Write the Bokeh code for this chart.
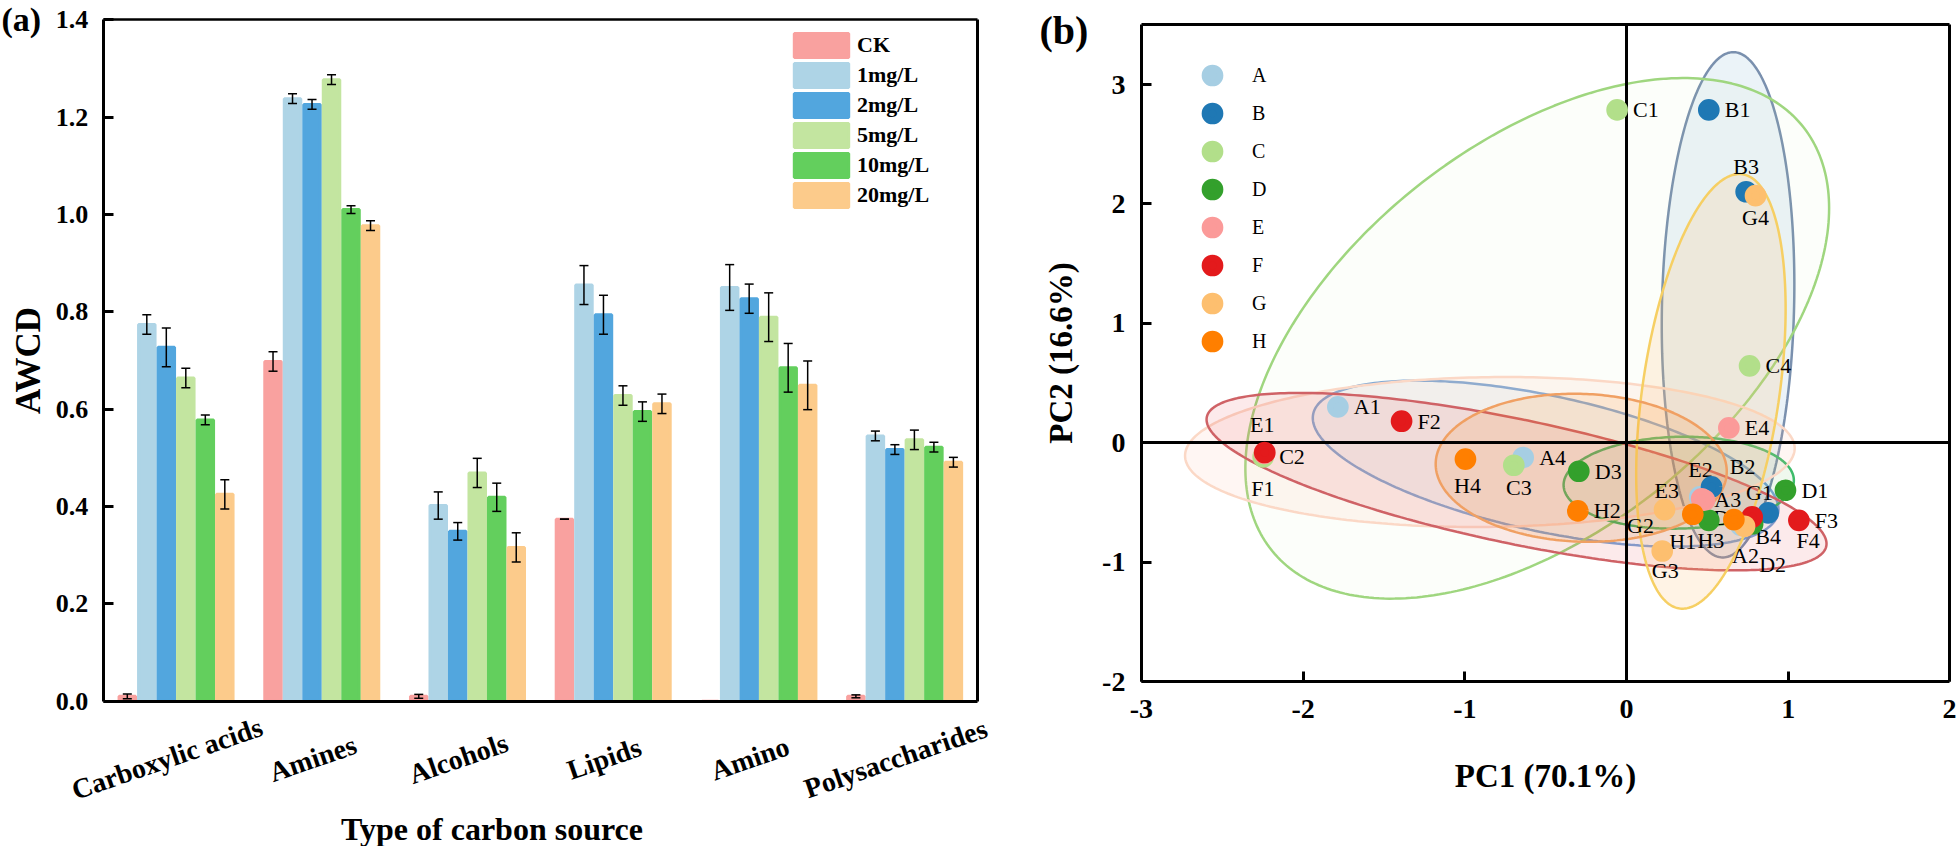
import numpy as np
from bokeh.plotting import figure
from bokeh.models import (ColumnDataSource, Whisker, TeeHead, Legend, LegendItem,
                          Range1d, FixedTicker, PrintfTickFormatter, LinearAxis)
from bokeh.layouts import row
from bokeh.embed import file_html
from bokeh.resources import INLINE
from bokeh.core.properties import value, field

SERIF = "Liberation Serif"

# ---------------- data: panel (a) ----------------
categories = ["Carboxylic acids", "Amines", "Alcohols", "Lipids", "Amino", "Polysaccharides"]
series = ["CK", "1mg/L", "2mg/L", "5mg/L", "10mg/L", "20mg/L"]

ck = [0.010, 0.698, 0.010, 0.374, 0.000, 0.010]
ck_err = [0.005, 0.020, 0.004, 0.000, 0.000, 0.003]
m1 = [0.774, 1.238, 0.402, 0.855, 0.850, 0.545]
m1_err = [0.020, 0.010, 0.028, 0.040, 0.047, 0.010]
m2 = [0.727, 1.226, 0.349, 0.794, 0.827, 0.517]
m2_err = [0.040, 0.010, 0.018, 0.040, 0.030, 0.010]
m5 = [0.664, 1.277, 0.469, 0.628, 0.789, 0.537]
m5_err = [0.020, 0.010, 0.030, 0.020, 0.050, 0.020]
m10 = [0.578, 1.010, 0.419, 0.595, 0.685, 0.522]
m10_err = [0.010, 0.008, 0.029, 0.020, 0.050, 0.010]
m20 = [0.425, 0.977, 0.316, 0.611, 0.649, 0.491]
m20_err = [0.030, 0.010, 0.030, 0.020, 0.050, 0.010]

awcd_ticks = [0.0, 0.2, 0.4, 0.6, 0.8, 1.0, 1.2, 1.4]

# ---------------- data: panel (b) ----------------
groups = ["A", "B", "C", "D", "E", "F", "G", "H"]
pc1_A = [-1.785, 0.705, 0.453, -0.639]
pc2_A = [0.300, -0.690, -0.454, -0.124]
pc1_B = [0.509, 0.526, 0.740, 0.876]
pc2_B = [2.787, -0.370, 2.102, -0.588]
pc1_C = [-0.058, -2.247, -0.697, 0.761]
pc2_C = [2.787, -0.119, -0.189, 0.644]
pc1_D = [0.983, 0.780, -0.295, 0.509]
pc2_D = [-0.398, -0.680, -0.239, -0.650]
pc1_E = [-2.240, 0.482, 0.465, 0.633]
pc2_E = [-0.090, -0.482, -0.470, 0.124]
pc1_F = [-2.237, -1.391, 1.066, 0.777]
pc2_F = [-0.082, 0.180, -0.650, -0.622]
pc1_G = [0.730, 0.235, 0.221, 0.798]
pc2_G = [-0.700, -0.560, -0.907, 2.069]
pc1_H = [0.410, -0.301, 0.664, -0.996]
pc2_H = [-0.599, -0.571, -0.644, -0.138]

# confidence ellipses per group (centre, half extents, correlation)
ell_cx = [-0.500, 0.628, -0.552, 0.323, -0.845, -0.680, 0.522, -0.280]
ell_cy = [-0.175, 1.155, 0.874, -0.335, -0.078, -0.326, 0.430, -0.210]
ell_sx = [1.440, 0.410, 1.805, 0.712, 1.885, 1.917, 0.462, 0.900]
ell_sy = [0.695, 2.116, 2.180, 0.385, 0.628, 0.743, 1.820, 0.620]
ell_r = [-0.55, 0.08, 0.50, 0.05, 0.05, -0.70, 0.38, -0.05]

pc1_ticks = [-3, -2, -1, 0, 1, 2]
pc2_ticks = [-2, -1, 0, 1, 2, 3]

# ---------------- styles ----------------
bar_colors = ["#F9A19F", "#AED4E6", "#52A6DE", "#C3E5A0", "#63CF5D", "#FCCB8B"]
point_colors = ["#A6CEE3", "#1F78B4", "#B2DF8A", "#33A02C", "#FB9A99", "#E31A1C", "#FDBF6F", "#FF7F00"]
ell_line = ["#7DA7D9", "#7A90AE", "#9FD67F", "#3DBB6A", "#FBD8C6", "#CF6266", "#F6CF63", "#F0A063"]
ell_fill = ["#A6CEE3", "#1F78B4", "#C8E29A", "#33A02C", "#FBB89A", "#E31A1C", "#FDBF6F", "#FF7F00"]
ell_alpha = [0.12, 0.09, 0.05, 0.08, 0.12, 0.09, 0.18, 0.12]

# label nudges (screen px: dx right, dy down, alignment) for crowded points
label_nudge = {
    "B3": (0, -25, "center"), "G4": (0, 22, "center"), "E1": (-2, -29, "center"),
    "F1": (-2, 36, "center"), "H4": (2, 26, "center"), "C3": (5, 22, "center"),
    "E2": (-4, -31, "center"), "B2": (31, -20, "center"), "E3": (-35, -8, "center"),
    "A3": (28, 3, "center"), "G1": (15, -34, "center"), "D4": (18, -3, "center"),
    "G2": (-24, 16, "center"), "H1": (-10, 27, "center"), "H3": (-23, 21, "center"),
    "A2": (5, 30, "center"), "B4": (0, 24, "center"), "D2": (20, 41, "center"),
    "F4": (56, 24, "center"), "G3": (3, 20, "center"),
}


def style_axis(ax, label_size, standoff):
    ax.axis_line_color = "black"
    ax.axis_line_width = 3
    ax.major_tick_line_color = "black"
    ax.major_tick_line_width = 3
    ax.major_tick_in = 10
    ax.major_tick_out = 0
    ax.minor_tick_line_color = None
    ax.major_label_text_font = SERIF
    ax.major_label_text_font_style = "bold"
    ax.major_label_text_font_size = label_size
    ax.major_label_text_color = "black"
    ax.major_label_standoff = standoff
    ax.axis_label_text_font = SERIF
    ax.axis_label_text_font_style = "bold"
    ax.axis_label_text_color = "black"


def frame_line(ax, loc, bounds, width=3):
    """Turn an axis into a bare box line at a fixed data location."""
    ax.fixed_location = loc
    ax.bounds = bounds
    ax.ticker = FixedTicker(ticks=[])
    ax.axis_line_color = "black"
    ax.axis_line_width = width
    ax.major_tick_line_color = None
    ax.minor_tick_line_color = None
    ax.major_label_text_font_size = "0px"
    return ax


H = 846  # canvas height (page has no margin)

# ================= panel (a) =================
# frame fills the whole canvas; axes are pinned to data locations
A_W = 1030
A_X0, A_X6 = 102.7, 977.0        # pixel x of x=0 and x=6
A_Y14, A_Y0 = 19.3, 700.7        # pixel y of 1.4 and 0
ax_px = (A_X6 - A_X0) / len(categories)
ay_px = (A_Y0 - A_Y14) / 1.4
xa_rng = Range1d(-A_X0 / ax_px, len(categories) + (A_W - A_X6) / ax_px)
ya_rng = Range1d(-(H - A_Y0) / ay_px, 1.4 + A_Y14 / ay_px)

pa = figure(width=A_W, height=H, x_range=xa_rng, y_range=ya_rng,
            output_backend="svg", toolbar_location=None, title=None,
            min_border=0, min_border_left=0, min_border_right=0, min_border_top=0, min_border_bottom=0)
pa.frame_align = False
pa.background_fill_color = "white"
pa.border_fill_color = "white"
pa.outline_line_color = None
pa.grid.visible = False

BAR_W = 0.1133       # drawn width; the 3px edge in the bar colour brings it to full width
values = [ck, m1, m2, m5, m10, m20]
errors = [ck_err, m1_err, m2_err, m5_err, m10_err, m20_err]
idx = np.arange(len(categories))
pitch = 19.5 / ax_px
bar_renderers = []
for j, (name, vals, errs) in enumerate(zip(series, values, errors)):
    vals = np.array(vals)
    errs = np.array(errs)
    xs = idx + 0.5 + (j - (len(series) - 1) / 2) * pitch
    src = ColumnDataSource(dict(x=xs, top=vals, upper=vals + errs, lower=vals - errs))
    r = pa.vbar(x="x", top="top", bottom=0, width=BAR_W, source=src,
                fill_color=bar_colors[j], line_color=bar_colors[j], line_width=3)
    bar_renderers.append(r)
    w = Whisker(source=src, base="x", upper="upper", lower="lower",
                line_color="black", line_width=1.5, level="annotation",
                upper_head=TeeHead(size=9, line_width=1.5, line_color="black"),
                lower_head=TeeHead(size=9, line_width=1.5, line_color="black"))
    pa.add_layout(w)

ya = pa.yaxis[0]
style_axis(ya, "26px", 15)
ya.fixed_location = 0
ya.bounds = (0, 1.4)
ya.ticker = FixedTicker(ticks=awcd_ticks)
ya.formatter = PrintfTickFormatter(format="%.1f")
ya.axis_label = "AWCD"
ya.axis_label_text_font_size = "35px"
ya.axis_label_standoff = 5

frame_line(pa.xaxis[0], 0, (0, len(categories)), 3)
pa.add_layout(frame_line(LinearAxis(), len(categories), (0, 1.4), 3), "right")
pa.add_layout(frame_line(LinearAxis(), 1.4, (0, len(categories)), 2.5), "above")

pa.text(x=idx + 0.5, y=np.full(len(categories), -(758 - A_Y0) / ay_px), text=categories,
        angle=np.deg2rad(19), x_offset=-9,
        text_align="center", text_baseline="middle",
        text_font=value(SERIF), text_font_style="bold", text_font_size="28px", text_color="black")
pa.text(x=[(491.5 - A_X0) / ax_px], y=[-(810 - A_Y0) / ay_px], text=["Type of carbon source"],
        text_align="center", text_baseline="top",
        text_font=value(SERIF), text_font_style="bold", text_font_size="32px", text_color="black")
pa.text(x=[(1 - A_X0) / ax_px], y=[1.4 + A_Y14 / ay_px], text=["(a)"],
        text_align="left", text_baseline="top",
        text_font=value(SERIF), text_font_style="bold", text_font_size="34px", text_color="black")

legend_a = Legend(items=[LegendItem(label=s, renderers=[r]) for s, r in zip(series, bar_renderers)],
                  location=(787, H - 30 - 30 * len(series)), orientation="vertical",
                  glyph_width=68, glyph_height=30, spacing=0, padding=0, margin=0,
                  border_line_color=None, background_fill_alpha=0,
                  label_text_font=SERIF, label_text_font_style="bold", label_text_font_size="22px",
                  label_text_color="black", label_standoff=2, label_height=30)
pa.add_layout(legend_a)

# ================= panel (b) =================
B_W = 926
B_XM3, B_X2 = 110.9, 919.4       # pixel x of -3 and 2 (within this canvas)
B_Y35, B_YM2 = 24.3, 681.0       # pixel y of 3.5 and -2
bx_px = (B_X2 - B_XM3) / 5.0
by_px = (B_YM2 - B_Y35) / 5.5
xb_rng = Range1d(-3 - B_XM3 / bx_px, 2 + (B_W - B_X2) / bx_px)
yb_rng = Range1d(-2 - (H - B_YM2) / by_px, 3.5 + B_Y35 / by_px)

pb = figure(width=B_W, height=H, x_range=xb_rng, y_range=yb_rng,
            output_backend="svg", toolbar_location=None, title=None,
            min_border=0, min_border_left=0, min_border_right=0, min_border_top=0, min_border_bottom=0)
pb.frame_align = False
pb.background_fill_color = "white"
pb.border_fill_color = "white"
pb.outline_line_color = None
pb.grid.visible = False

t = np.linspace(0, 2 * np.pi, 300)
exs, eys = [], []
for cx, cy, sx, sy, rr in zip(ell_cx, ell_cy, ell_sx, ell_sy, ell_r):
    exs.append(cx + sx * np.cos(t))
    eys.append(cy + sy * (rr * np.cos(t) + np.sqrt(1 - rr * rr) * np.sin(t)))
esrc = ColumnDataSource(dict(xs=exs, ys=eys, fc=ell_fill, fa=ell_alpha, lc=ell_line))
pb.patches(xs="xs", ys="ys", source=esrc, fill_color="fc", fill_alpha="fa",
           line_color="lc", line_width=2.5)

pc1_all = [pc1_A, pc1_B, pc1_C, pc1_D, pc1_E, pc1_F, pc1_G, pc1_H]
pc2_all = [pc2_A, pc2_B, pc2_C, pc2_D, pc2_E, pc2_F, pc2_G, pc2_H]

lx, ly, lt, ldx, ldy, lal = [], [], [], [], [], []
for g, xs_, ys_ in zip(groups, pc1_all, pc2_all):
    for k, (xv, yv) in enumerate(zip(xs_, ys_)):
        name = f"{g}{k + 1}"
        dx, dy, al = label_nudge.get(name, (16, 0, "left"))
        lx.append(xv); ly.append(yv); lt.append(name)
        ldx.append(dx); ldy.append(dy); lal.append(al)
lsrc = ColumnDataSource(dict(x=lx, y=ly, text=lt, dx=ldx, dy=ldy, align=lal))
pb.text(x="x", y="y", text="text", x_offset="dx", y_offset="dy", text_align=field("align"),
        text_baseline="middle", text_font=value(SERIF), text_font_size="22px",
        text_color="black", source=lsrc, level="overlay")

pt_renderers = []
for g, xs_, ys_, col in zip(groups, pc1_all, pc2_all, point_colors):
    r = pb.scatter(x=xs_, y=ys_, size=15.2, fill_color=col, line_color=col, line_width=6.5,
                   level="overlay")
    pt_renderers.append(r)

legend_b = Legend(items=[LegendItem(label=g, renderers=[r]) for g, r in zip(groups, pt_renderers)],
                  location=(163, H - 56 - 38 * len(groups)), orientation="vertical",
                  glyph_width=38, glyph_height=38, spacing=0, padding=0, margin=0,
                  border_line_color=None, background_fill_alpha=0,
                  label_text_font=SERIF, label_text_font_size="20px",
                  label_text_color="black", label_standoff=21, label_height=38)
pb.add_layout(legend_b)

xb = pb.xaxis[0]
style_axis(xb, "28px", 18)
xb.fixed_location = -2
xb.bounds = (-3, 2)
xb.ticker = FixedTicker(ticks=pc1_ticks)
xb.major_label_overrides = {t_: str(t_) for t_ in pc1_ticks}
xb.axis_label = "PC1 (70.1%)"
xb.axis_label_text_font_size = "33px"
xb.axis_label_standoff = 37

yb = pb.yaxis[0]
style_axis(yb, "28px", 16)
yb.fixed_location = -3
yb.bounds = (-2, 3.5)
yb.ticker = FixedTicker(ticks=pc2_ticks)
yb.major_label_overrides = {t_: str(t_) for t_ in pc2_ticks}
yb.axis_label = "PC2 (16.6%)"
yb.axis_label_text_font_size = "33px"
yb.axis_label_standoff = 20

pb.add_layout(frame_line(LinearAxis(), 2, (-2, 3.5), 3), "right")
pb.add_layout(frame_line(LinearAxis(), 3.5, (-3, 2), 3), "above")
pb.add_layout(frame_line(LinearAxis(), 0, (-2, 3.5), 3), "left")
pb.add_layout(frame_line(LinearAxis(), 0, (-3, 2), 3), "below")

pb.text(x=[-3 - (B_XM3 - 9) / bx_px], y=[3.5 + (B_Y35 - 7) / by_px], text=["(b)"],
        text_align="left", text_baseline="top",
        text_font=value(SERIF), text_font_style="bold", text_font_size="40px", text_color="black")

layout = row(pa, pb)
open("out.html", "w").write(file_html(layout, INLINE))
